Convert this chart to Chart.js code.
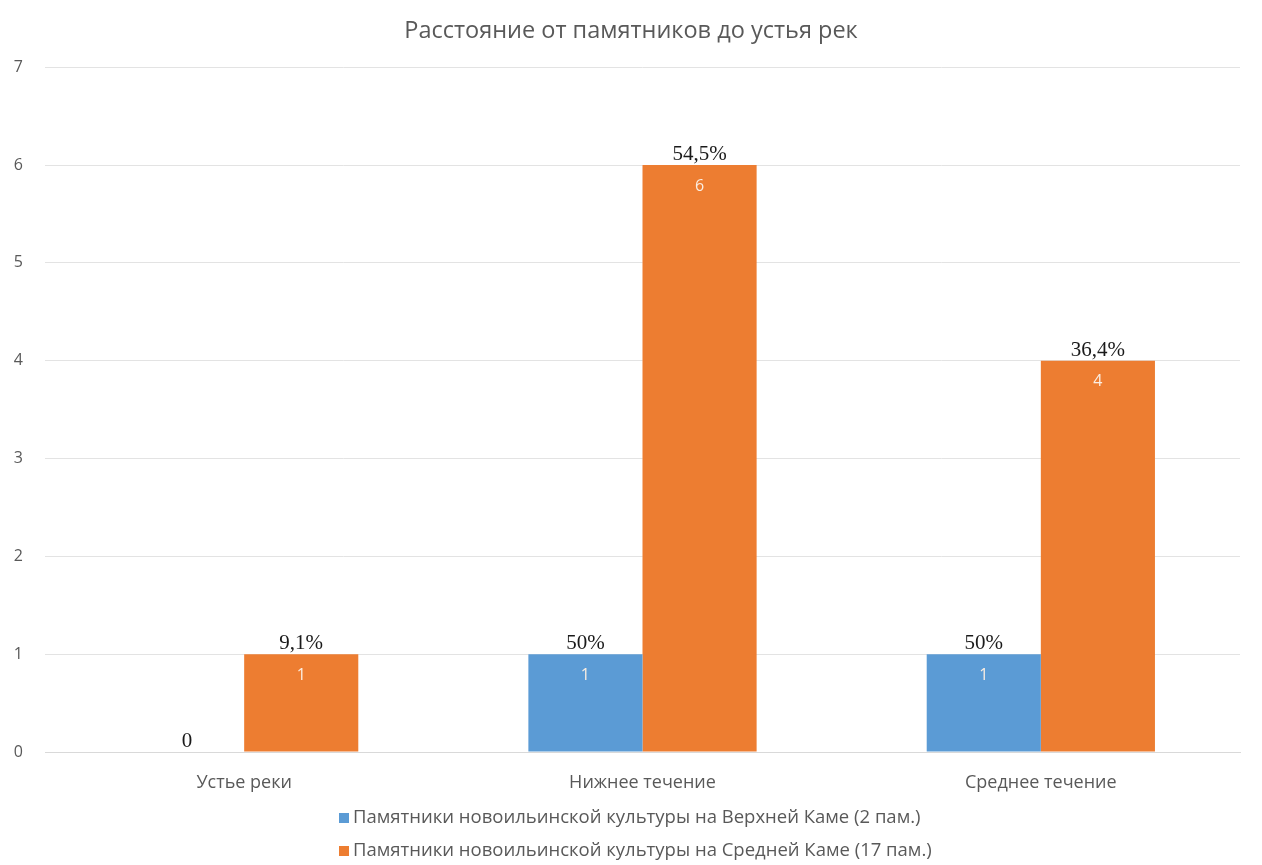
<!DOCTYPE html>
<html>
<head>
<meta charset="utf-8">
<script src="https://cdn.jsdelivr.net/npm/chart.js@4.4.1/dist/chart.umd.min.js"></script>
<style>
    html, body { margin: 0; padding: 0; background: #ffffff; }
    #wrap { width: 1262px; height: 865px; }
</style>
</head>
<body>
<div id="wrap"><canvas id="chart" width="1262" height="865"></canvas></div>
<script>
// Данные диаграммы
const categories = ['Устье реки', 'Нижнее течение', 'Среднее течение'];
const seriesNames = [
    'Памятники новоильинской культуры на Верхней Каме (2 пам.)',
    'Памятники новоильинской культуры на Средней Каме (17 пам.)'
];
const upperKamaValues = [0, 1, 1];
const middleKamaValues = [1, 6, 4];
const upperKamaPercents = ['0', '50%', '50%'];
const middleKamaPercents = ['9,1%', '54,5%', '36,4%'];
const yTicks = [0, 1, 2, 3, 4, 5, 6, 7];

const colors = ['#5b9bd5', '#ed7d31'];
const textGray = '#595959';
const sansFont = '"Open Sans", "Noto Sans", sans-serif';

// Подписи над столбцами (проценты) и внутри столбцов (значения)
const barLabelsPlugin = {
    id: 'barLabels',
    afterDatasetsDraw(chart) {
        const ctx = chart.ctx;
        const percents = [upperKamaPercents, middleKamaPercents];
        ctx.save();
        ctx.textAlign = 'center';
        chart.data.datasets.forEach((dataset, di) => {
            const meta = chart.getDatasetMeta(di);
            meta.data.forEach((bar, i) => {
                const value = dataset.data[i];
                ctx.font = '21px "Liberation Serif", "Times New Roman", serif';
                ctx.fillStyle = '#1a1a1a';
                ctx.textBaseline = 'bottom';
                ctx.fillText(percents[di][i], bar.x, bar.y);
                if (value > 0) {
                    ctx.font = '16px ' + sansFont;
                    ctx.fillStyle = '#fbeee2';
                    ctx.textBaseline = 'middle';
                    ctx.fillText(String(value), bar.x, bar.y + 21);
                }
            });
        });
        ctx.restore();
    }
};

// Легенда в столбик, выровненная по левому краю
const stackedLegendPlugin = {
    id: 'stackedLegend',
    afterDraw(chart) {
        const ctx = chart.ctx;
        ctx.save();
        ctx.font = '18.5px ' + sansFont;
        ctx.textBaseline = 'middle';
        ctx.textAlign = 'left';
        const x = 339;
        const rows = [818, 851];
        chart.data.datasets.forEach((dataset, i) => {
            ctx.fillStyle = dataset.backgroundColor;
            ctx.fillRect(x, rows[i] - 5, 10, 10);
            ctx.fillStyle = textGray;
            ctx.fillText(dataset.label, x + 14, rows[i]);
        });
        ctx.restore();
    }
};

new Chart(document.getElementById('chart'), {
    type: 'bar',
    data: {
        labels: categories,
        datasets: [
            {
                label: seriesNames[0],
                data: upperKamaValues,
                backgroundColor: colors[0],
                categoryPercentage: 0.573,
                barPercentage: 1
            },
            {
                label: seriesNames[1],
                data: middleKamaValues,
                backgroundColor: colors[1],
                categoryPercentage: 0.573,
                barPercentage: 1
            }
        ]
    },
    options: {
        responsive: false,
        animation: false,
        layout: {
            padding: { left: 0, right: 0, top: 0, bottom: 63 }
        },
        plugins: {
            legend: { display: false },
            tooltip: { enabled: false },
            title: {
                display: true,
                text: 'Расстояние от памятников до устья рек',
                color: textGray,
                font: { family: sansFont, size: 23.5, weight: 'normal' },
                padding: { top: 17, bottom: 22 }
            }
        },
        scales: {
            x: {
                afterFit: axis => { axis.height = 50; },
                grid: { display: false },
                border: { color: '#d9d9d9' },
                ticks: {
                    color: textGray,
                    font: { family: sansFont, size: 18 },
                    padding: 12
                }
            },
            y: {
                min: yTicks[0],
                max: yTicks[yTicks.length - 1],
                afterFit: axis => { axis.width = 45; },
                afterBuildTicks: axis => { axis.ticks = yTicks.map(v => ({ value: v })); },
                grid: { color: '#e3e3e3', drawTicks: false },
                border: { display: false },
                ticks: {
                    color: textGray,
                    font: { family: sansFont, size: 16 },
                    padding: 22
                }
            },
            // пустая правая ось, только чтобы оставить поле справа
            yRight: {
                position: 'right',
                afterFit: axis => { axis.width = 22; },
                grid: { display: false },
                border: { display: false },
                ticks: { display: false }
            }
        }
    },
    plugins: [barLabelsPlugin, stackedLegendPlugin]
});
</script>
</body>
</html>
